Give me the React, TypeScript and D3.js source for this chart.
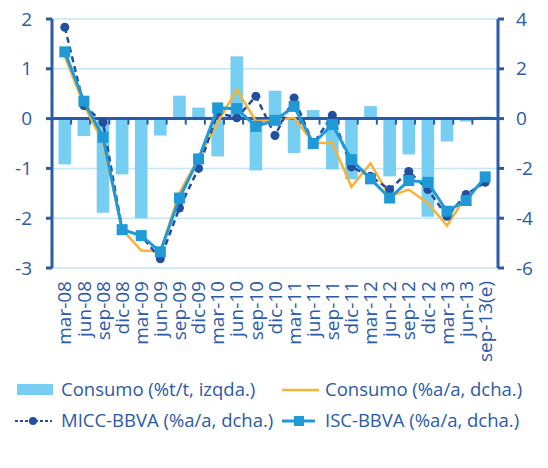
import React, { useEffect, useRef } from 'react';
import * as d3 from 'd3';

// quarters
const categories = [
  'mar-08', 'jun-08', 'sep-08', 'dic-08', 'mar-09', 'jun-09', 'sep-09', 'dic-09',
  'mar-10', 'jun-10', 'sep-10', 'dic-10', 'mar-11', 'jun-11', 'sep-11', 'dic-11',
  'mar-12', 'jun-12', 'sep-12', 'dic-12', 'mar-13', 'jun-13', 'sep-13(e)',
];

// Consumo %t/t (left axis, bars)
const consumoTT = [
  -0.92, -0.35, -1.89, -1.12, -2.0, -0.34, 0.46, 0.22,
  -0.76, 1.25, -1.04, 0.56, -0.69, 0.17, -1.02, -1.22,
  0.25, -1.16, -0.72, -1.97, -0.46, -0.06, 0.04,
];

// Consumo %a/a (right axis) - no value for sep-13
const consumoAA: (number | null)[] = [
  2.5, 0.55, -0.95, -4.45, -5.3, -5.33, -2.98, -1.6,
  -0.15, 1.16, -0.1, -0.08, 0.03, -0.97, -0.98, -2.74,
  -1.8, -3.12, -2.85, -3.4, -4.3, -3.12, null,
];

// MICC-BBVA %a/a (right axis)
const micc = [
  3.67, 0.52, -0.15, -4.45, -4.7, -5.63, -3.59, -2.0,
  0.24, 0.03, 0.9, -0.68, 0.83, -1.02, 0.13, -1.94,
  -2.32, -2.85, -2.12, -2.85, -3.92, -3.05, -2.56,
];

// ISC-BBVA %a/a (right axis)
const isc = [
  2.68, 0.7, -0.75, -4.46, -4.7, -5.35, -3.19, -1.62,
  0.43, 0.4, -0.31, -0.07, 0.49, -1.0, -0.24, -1.65,
  -2.42, -3.19, -2.49, -2.56, -3.72, -3.29, -2.34,
];

const leftTicks = [2, 1, 0, -1, -2, -3];
const rightTicks = [4, 2, 0, -2, -4, -6];

const TEXT = '#2b5aa8';
const AXIS = '#2a5ba8';
const BAR = '#76cef2';
const ORANGE = '#f9b234';
const DARK = '#234f9e';
const MID = '#1f9ad6';
const GRID = '#c2e6f6';
const FONT = "'Open Sans', sans-serif";

const App: React.FC = () => {
  const svgRef = useRef<SVGSVGElement>(null);

  useEffect(() => {
    if (!svgRef.current) return;
    const svg = d3.select(svgRef.current);
    svg.html('');

    const left = 52;
    const right = 498;
    const top = 19;
    const bottom = 268;

    const x = d3.scaleBand<string>().domain(categories).range([left, right]).padding(0.34);
    const xc = (i: number) => (x(categories[i]) as number) + x.bandwidth() / 2;
    const yL = d3.scaleLinear().domain([-3, 2]).range([bottom, top]);
    const yR = d3.scaleLinear().domain([-6, 4]).range([bottom, top]);

    // gridlines
    svg.append('g')
      .selectAll('line')
      .data(leftTicks)
      .join('line')
      .attr('x1', left)
      .attr('x2', right)
      .attr('y1', d => yL(d))
      .attr('y2', d => yL(d))
      .attr('stroke', GRID)
      .attr('stroke-width', 1.5);

    // bars
    svg.append('g')
      .selectAll('rect')
      .data(consumoTT)
      .join('rect')
      .attr('x', (d, i) => x(categories[i]) as number)
      .attr('width', x.bandwidth())
      .attr('y', d => yL(Math.max(0, d)))
      .attr('height', d => Math.abs(yL(d) - yL(0)))
      .attr('fill', BAR);

    // zero line with category ticks
    svg.append('line')
      .attr('x1', left).attr('x2', right)
      .attr('y1', yL(0)).attr('y2', yL(0))
      .attr('stroke', AXIS).attr('stroke-width', 3);
    const step = x.step();
    svg.append('g')
      .selectAll('line')
      .data(d3.range(1, categories.length))
      .join('line')
      .attr('x1', i => left + i * step)
      .attr('x2', i => left + i * step)
      .attr('y1', yL(0))
      .attr('y2', yL(0) + 6)
      .attr('stroke', AXIS)
      .attr('stroke-width', 2);

    // left axis
    svg.append('line')
      .attr('x1', left).attr('x2', left)
      .attr('y1', top).attr('y2', bottom)
      .attr('stroke', AXIS).attr('stroke-width', 3);
    svg.append('g')
      .selectAll('line')
      .data(leftTicks)
      .join('line')
      .attr('x1', left - 6).attr('x2', left)
      .attr('y1', d => yL(d)).attr('y2', d => yL(d))
      .attr('stroke', AXIS).attr('stroke-width', 3);
    svg.append('g')
      .selectAll('text')
      .data(leftTicks)
      .join('text')
      .attr('x', 32)
      .attr('y', d => yL(d))
      .attr('dy', '0.35em')
      .attr('text-anchor', 'end')
      .attr('fill', TEXT)
      .style('font-family', FONT)
      .style('font-size', '19px')
      .text(d => String(d));

    // right axis
    svg.append('line')
      .attr('x1', right).attr('x2', right)
      .attr('y1', top).attr('y2', bottom)
      .attr('stroke', AXIS).attr('stroke-width', 3);
    svg.append('g')
      .selectAll('line')
      .data(rightTicks)
      .join('line')
      .attr('x1', right).attr('x2', right + 6)
      .attr('y1', d => yR(d)).attr('y2', d => yR(d))
      .attr('stroke', AXIS).attr('stroke-width', 3);
    svg.append('g')
      .selectAll('text')
      .data(rightTicks)
      .join('text')
      .attr('x', 516)
      .attr('y', d => yR(d))
      .attr('dy', '0.35em')
      .attr('text-anchor', 'start')
      .attr('fill', TEXT)
      .style('font-family', FONT)
      .style('font-size', '19px')
      .text(d => String(d));

    // x labels
    svg.append('g')
      .selectAll('text')
      .data(categories)
      .join('text')
      .attr('transform', (d, i) => `translate(${xc(i)},${bottom + 13}) rotate(-90)`)
      .attr('dy', '0.35em')
      .attr('text-anchor', 'end')
      .attr('fill', TEXT)
      .style('font-family', FONT)
      .style('font-size', '19px')
      .text(d => d);

    // lines
    const line = d3.line<number | null>()
      .defined(d => d !== null)
      .x((d, i) => xc(i))
      .y(d => yR(d as number));

    svg.append('path')
      .datum(consumoAA)
      .attr('fill', 'none')
      .attr('stroke', ORANGE)
      .attr('stroke-width', 2.5)
      .attr('d', line);

    svg.append('path')
      .datum(micc)
      .attr('fill', 'none')
      .attr('stroke', DARK)
      .attr('stroke-width', 2.5)
      .attr('stroke-dasharray', '6,4')
      .attr('d', line as any);
    svg.append('g')
      .selectAll('circle')
      .data(micc)
      .join('circle')
      .attr('cx', (d, i) => xc(i))
      .attr('cy', d => yR(d))
      .attr('r', 4.5)
      .attr('fill', DARK);

    svg.append('path')
      .datum(isc)
      .attr('fill', 'none')
      .attr('stroke', MID)
      .attr('stroke-width', 3)
      .attr('d', line as any);
    svg.append('g')
      .selectAll('rect')
      .data(isc)
      .join('rect')
      .attr('x', (d, i) => xc(i) - 5.5)
      .attr('y', d => yR(d) - 5.5)
      .attr('width', 11)
      .attr('height', 11)
      .attr('fill', MID);

    // legend
    const lg = svg.append('g').style('font-family', FONT).style('font-size', '18.5px');
    const row1 = 390;
    const row2 = 421;
    lg.append('rect').attr('x', 17).attr('y', row1 - 6).attr('width', 36).attr('height', 11).attr('fill', BAR);
    lg.append('text').attr('x', 61).attr('y', row1).attr('dy', '0.35em').attr('fill', TEXT).text('Consumo (%t/t, izqda.)');
    lg.append('line').attr('x1', 282).attr('x2', 319).attr('y1', row1).attr('y2', row1)
      .attr('stroke', ORANGE).attr('stroke-width', 2.5);
    lg.append('text').attr('x', 325).attr('y', row1).attr('dy', '0.35em').attr('fill', TEXT).text('Consumo (%a/a, dcha.)');
    lg.append('line').attr('x1', 15).attr('x2', 52).attr('y1', row2).attr('y2', row2)
      .attr('stroke', DARK).attr('stroke-width', 2).attr('stroke-dasharray', '3,2');
    lg.append('circle').attr('cx', 33).attr('cy', row2).attr('r', 4).attr('fill', DARK);
    lg.append('text').attr('x', 61).attr('y', row2).attr('dy', '0.35em').attr('fill', TEXT).text('MICC-BBVA (%a/a, dcha.)');
    lg.append('line').attr('x1', 282).attr('x2', 315).attr('y1', row2).attr('y2', row2)
      .attr('stroke', MID).attr('stroke-width', 3);
    lg.append('rect').attr('x', 294).attr('y', row2 - 5).attr('width', 10).attr('height', 10).attr('fill', MID);
    lg.append('text').attr('x', 325).attr('y', row2).attr('dy', '0.35em').attr('fill', TEXT).text('ISC-BBVA (%a/a, dcha.)');
  }, []);

  return (
    <svg
      ref={svgRef}
      width={548}
      height={468}
      style={{ position: 'absolute', left: 0, top: 0, background: '#fff' }}
    />
  );
};

export default App;
